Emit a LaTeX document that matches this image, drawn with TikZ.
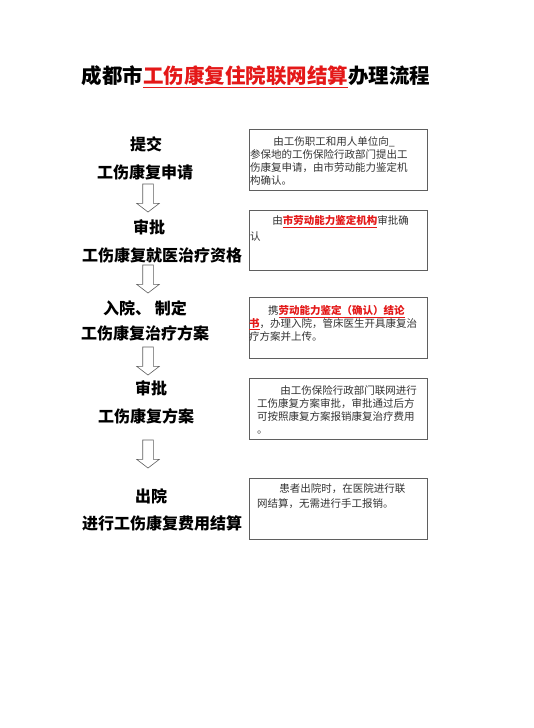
\documentclass[tikz,border=0pt]{standalone}
\usepackage{fontspec}
\setmainfont{Noto Sans CJK SC}
\usetikzlibrary{positioning, shapes.arrows}

\definecolor{markred}{RGB}{228,24,24}
\definecolor{framegray}{RGB}{95,95,95}
\newcommand{\marked}[1]{\textcolor{markred}{\bfseries\underline{#1}}}

\tikzset{
  stage/.style={font=\bfseries\fontsize{16}{16}\selectfont, inner sep=0pt},
  note/.style={draw=framegray, line width=0.8pt, minimum width=178pt, minimum height=61pt, anchor=north west, inner sep=0pt},
  notetext/.style={anchor=north west, align=left, inner sep=0pt, text=black!80, font=\fontsize{10.5}{13}\selectfont},
  downarrow/.style={single arrow, draw=framegray, line width=0.6pt, rotate=-90, minimum height=28pt, inner xsep=0pt, inner ysep=5pt, single arrow head extend=6pt, single arrow tip angle=105}
}

\begin{document}
\begin{tikzpicture}[x=1pt, y=1pt]
  \useasboundingbox[fill=white] (0,0) rectangle (533,-728);

  % title
  \node[font=\bfseries\fontsize{20.5}{20.5}\selectfont, inner sep=0pt] (title) at (256,-77)
    {成都市\textcolor{markred}{\underline{工伤康复住院联网结算}}办理流程};

  % left column
  \node[stage] (s1a) at (146,-144) {提交};
  \node[stage] (s1b) at (145,-172) {工伤康复申请};
  \node[stage] (s2a) at (149,-227) {审批};
  \node[stage] (s2b) at (162,-255) {工伤康复就医治疗资格};
  \node[stage] (s3a) at (145,-308) {入院、 制定};
  \node[stage] (s3b) at (145,-333) {工伤康复治疗方案};
  \node[stage] (s4a) at (151,-388) {审批};
  \node[stage] (s4b) at (146,-416) {工伤康复方案};
  \node[stage] (s5a) at (151,-496) {出院};
  \node[stage] (s5b) at (162,-523) {进行工伤康复费用结算};

  \node[downarrow] (a1) at (148,-196) {};
  \node[downarrow] (a2) at (148,-277) {};
  \node[downarrow] (a3) at (148,-359) {};
  \node[downarrow] (a4) at (148,-452) {};

  % right column
  \node[note] (b1) at (249,-129) {};
  \node[notetext] (t1) at ([xshift=1pt, yshift=-7pt]b1.north west)
    {\hspace*{2.2em}由工伤职工和用人单位向\_\\
     参保地的工伤保险行政部门提出工\\
     伤康复申请，由市劳动能力鉴定机\\
     构确认。};

  \node[note, minimum height=60pt] (b2) at (249,-210) {};
  \node[notetext] (t2) at ([xshift=1pt, yshift=-5pt]b2.north west)
    {\hspace*{2.1em}由\marked{市劳动能力鉴定机构}审批确\\[3pt]
     认};

  \node[note] (b3) at (249,-297) {};
  \node[notetext] (t3) at ([xshift=0pt, yshift=-8pt]b3.north west)
    {\hspace*{1.8em}携\marked{劳动能力鉴定（确认）结论}\\
     \marked{书}，办理入院，管床医生开具康复治\\
     疗方案并上传。};

  \node[note] (b4) at (249,-378) {};
  \node[notetext] (t4) at ([xshift=8pt, yshift=-7pt]b4.north west)
    {\hspace*{2.2em}由工伤保险行政部门联网进行\\
     工伤康复方案审批，审批通过后方\\
     可按照康复方案报销康复治疗费用\\
     。};

  \node[note] (b5) at (249,-478) {};
  \node[notetext] (t5) at ([xshift=8pt, yshift=-5pt]b5.north west)
    {\hspace*{2.1em}患者出院时，在医院进行联\\[2pt]
     网结算，无需进行手工报销。};
\end{tikzpicture}
\end{document}
